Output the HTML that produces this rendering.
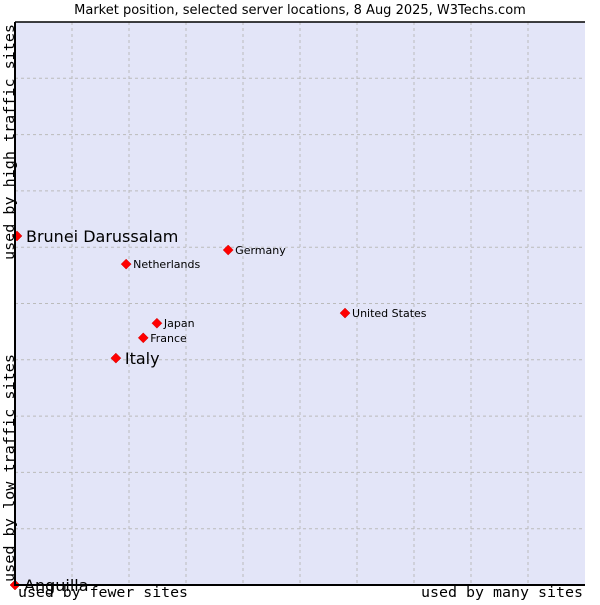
<!DOCTYPE html>
<html><head><meta charset="utf-8"><style>
body{margin:0;background:#fff;width:600px;height:600px;overflow:hidden}
svg text{font-family:"DejaVu Sans","Liberation Sans",sans-serif}
.mono{font-family:"DejaVu Sans Mono","Liberation Mono",monospace}
</style></head><body>
<svg id="chart" width="600" height="600">
<text x="300" y="14" text-anchor="middle" font-size="13" fill="#000">Market position, selected server locations, 8 Aug 2025, W3Techs.com</text>
<rect x="15" y="22" width="570" height="563" fill="#e3e5f8"/>
<g id="grid"></g>
<g id="points"></g>
<path d="M15 22V585H585" fill="none" stroke="#000" stroke-width="2"/>
<line x1="15" y1="22" x2="585" y2="22" stroke="#000" stroke-width="1.5"/>
<text class="mono" x="18" y="597" font-size="14" textLength="170" lengthAdjust="spacingAndGlyphs">used by fewer sites</text>
<text class="mono" x="583" y="597" font-size="14" text-anchor="end" textLength="162" lengthAdjust="spacingAndGlyphs">used by many sites</text>
<text class="mono" transform="translate(14,582) rotate(-90)" font-size="14" textLength="228" lengthAdjust="spacingAndGlyphs">used by low traffic sites</text>
<text class="mono" transform="translate(14,260) rotate(-90)" font-size="14" textLength="236" lengthAdjust="spacingAndGlyphs">used by high traffic sites</text>
</svg>
<script>
const names=["Brunei Darussalam","Italy","Netherlands","Germany","Japan","France","United States","Anguilla"];
const xVals=[0.035,1.77,1.95,3.74,2.49,2.25,5.79,0];
const yVals=[6.2,4.03,5.70,5.95,4.65,4.39,4.83,0];
const large=[true,true,false,false,false,false,false,true];
const NS="http://www.w3.org/2000/svg";
const xs=v=>15+v*57, ys=v=>585-v*56.3;
const grid=document.getElementById('grid'), pts=document.getElementById('points');
for(let i=1;i<10;i++){
  const v=document.createElementNS(NS,'line');
  v.setAttribute('x1',xs(i));v.setAttribute('x2',xs(i));v.setAttribute('y1',22);v.setAttribute('y2',585);
  v.setAttribute('stroke','#bbb');v.setAttribute('stroke-dasharray','3,3');
  
  
  grid.appendChild(v);
  const h=document.createElementNS(NS,'line');
  h.setAttribute('y1',ys(i));h.setAttribute('y2',ys(i));h.setAttribute('x1',15);h.setAttribute('x2',585);
  h.setAttribute('stroke','#bbb');h.setAttribute('stroke-dasharray','3,3');
  
  
  grid.appendChild(h);
}
names.forEach((n,i)=>{
  const x=xs(xVals[i]), y=ys(yVals[i]);
  const d=document.createElementNS(NS,'path');
  d.setAttribute('d',`M${x-5} ${y}L${x} ${y-5}L${x+5} ${y}L${x} ${y+5}Z`);
  d.setAttribute('fill','#f00');d.setAttribute('stroke','#c00');d.setAttribute('stroke-width','0.5');
  
  
  pts.appendChild(d);
  const t=document.createElementNS(NS,'text');
  t.setAttribute('x',x+(large[i]?9:7));t.setAttribute('y',y+(large[i]?6:4));
  t.setAttribute('font-size',large[i]?16:11);
  t.textContent=n;
  
  
  pts.appendChild(t);
});
</script>
</body></html>
